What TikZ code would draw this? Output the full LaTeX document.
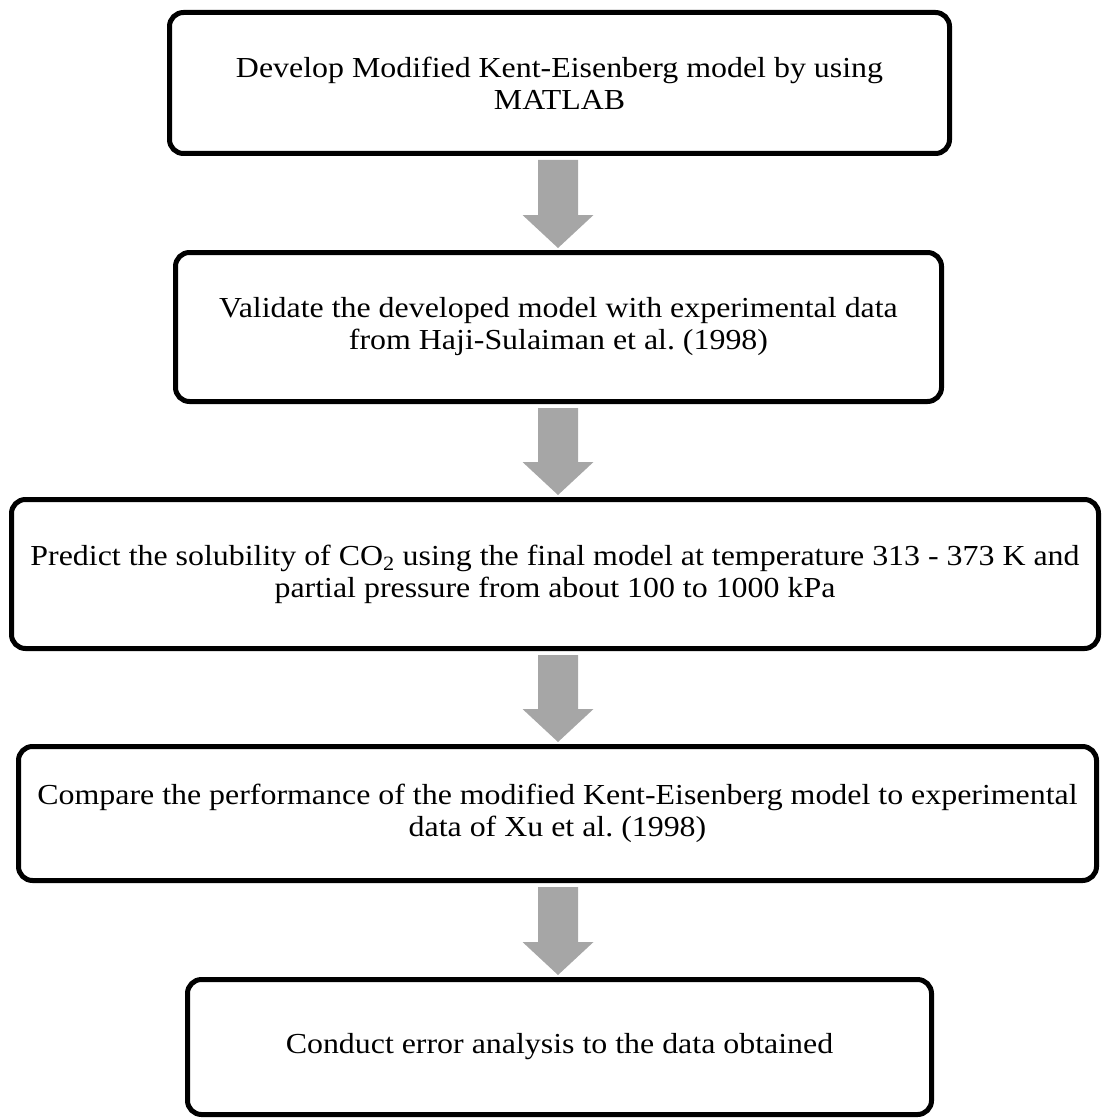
\documentclass[tikz,border=0pt]{standalone}
\usepackage{fontspec}
\setmainfont[FakeStretch=1.1]{Liberation Serif}
\usetikzlibrary{calc}
\definecolor{arrowgray}{HTML}{A6A6A6}
\tikzset{
  stepbox/.style={draw=black, line width=5pt, rounded corners=14pt, fill=white,
    align=center, inner sep=0pt, font=\fontsize{29}{32}\selectfont\frenchspacing},
}
\newcommand\blockarrow[2]{%
  \fill[arrowgray] let \p1=(#1.south), \p2=(#2.north) in
    (538pt,{\y1-4pt}) -- (578pt,{\y1-4pt}) -- (578pt,{\y2+35pt}) --
    (593.5pt,{\y2+35pt}) -- (558pt,{\y2+2pt}) -- (522.5pt,{\y2+35pt}) --
    (538pt,{\y2+35pt}) -- cycle;}
\begin{document}
\begin{tikzpicture}[x=1pt,y=-1pt]
\useasboundingbox (0,0) rectangle (1101,1118);
\node[stepbox, minimum width=780pt, minimum height=141pt] (b1) at (559.5,83)
  {Develop Modified Kent-Eisenberg model by using\\MATLAB};
\node[stepbox, minimum width=766pt, minimum height=149pt] (b2) at (558.5,327)
  {Validate the developed model with experimental data\\from Haji-Sulaiman et al. (1998)};
\node[stepbox, minimum width=1087pt, minimum height=149pt] (b3) at (555,574)
  {Predict the solubility of CO\textsubscript{2} using the final model at temperature 313 - 373 K and\\partial pressure from about 100 to 1000 kPa};
\node[stepbox, minimum width=1078pt, minimum height=134pt] (b4) at (557.5,813.5)
  {Compare the performance of the modified Kent-Eisenberg model to experimental\\data of Xu et al. (1998)};
\node[stepbox, minimum width=744pt, minimum height=135pt] (b5) at (559.5,1047)
  {\raisebox{4pt}{Conduct error analysis to the data obtained}};
\blockarrow{b1}{b2}
\blockarrow{b2}{b3}
\blockarrow{b3}{b4}
\blockarrow{b4}{b5}
\end{tikzpicture}
\end{document}
